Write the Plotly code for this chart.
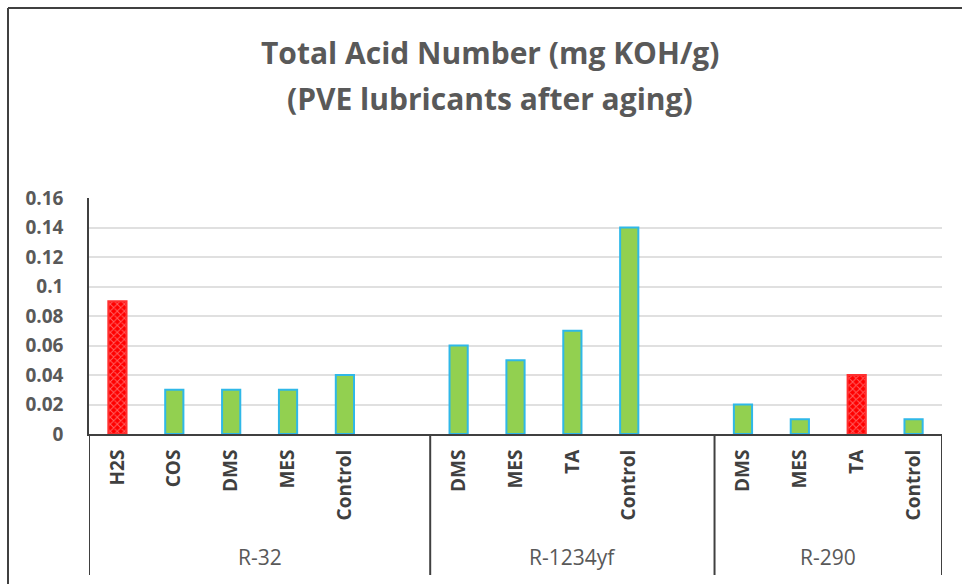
"""Total Acid Number bar chart for PVE lubricants after aging."""

import plotly.graph_objects as go

# Categories per refrigerant group ("" = empty spacer slot)
groups = ["R-32", "R-1234yf", "R-290"]
group_labels = [
    ["H2S", "COS", "DMS", "MES", "Control", ""],
    ["DMS", "MES", "TA", "Control", ""],
    ["DMS", "MES", "TA", "Control"],
]
group_values = [
    [0.09, 0.03, 0.03, 0.03, 0.04, None],
    [0.06, 0.05, 0.07, 0.14, None],
    [0.02, 0.01, 0.04, 0.01],
]
# bars drawn with the red hatched style
highlight = [("R-32", "H2S"), ("R-290", "TA")]

y_ticks = [0, 0.02, 0.04, 0.06, 0.08, 0.1, 0.12, 0.14, 0.16]

W, H = 962, 584
L, R, T, B = 89, 20, 198, 150
PW, PH = W - L - R, H - T - B

GRAY = "#595959"
FONT = "Open Sans"


def px_x(p):
    return (p - L) / PW


def px_y(p):
    return (H - B - p) / PH


labels, values, grp_of = [], [], []
for g, labs, vals in zip(groups, group_labels, group_values):
    labels += labs
    values += vals
    grp_of += [g] * len(labs)

idx = list(range(len(labels)))
is_red = [(g, lab) in highlight for g, lab in zip(grp_of, labels)]

green_x = [i for i in idx if not is_red[i]]
red_x = [i for i in idx if is_red[i]]

fig = go.Figure()
fig.add_trace(
    go.Bar(
        x=green_x,
        y=[values[i] for i in green_x],
        width=0.32,
        marker=dict(color="#92D050", line=dict(color="#2FB8E8", width=2)),
        showlegend=False,
    )
)
fig.add_trace(
    go.Bar(
        x=red_x,
        y=[values[i] for i in red_x],
        width=0.32,
        marker=dict(
            color="#FF0000",
            line=dict(color="#FF3030", width=2),
            pattern=dict(
                shape="x", bgcolor="#FF0000", fgcolor="#FFC0C0", size=5, solidity=0.35
            ),
        ),
        showlegend=False,
    )
)

fig.update_layout(
    width=W,
    height=H,
    margin=dict(l=L, r=R, t=T, b=B),
    paper_bgcolor="white",
    plot_bgcolor="white",
    barmode="overlay",
    font=dict(family=FONT, color=GRAY),
)

# two-line title
for text, ypx in [("Total Acid Number (mg KOH/g)", 52), ("(PVE lubricants after aging)", 98)]:
    fig.add_annotation(
        x=px_x(490), y=px_y(ypx), xref="paper", yref="paper",
        xanchor="center", yanchor="middle",
        text=text, showarrow=False,
        font=dict(family=FONT, size=30, color=GRAY, weight="bold"),
    )

fig.update_xaxes(
    range=[-0.5, len(labels) - 0.5],
    tickmode="array",
    tickvals=idx,
    ticktext=labels,
    tickangle=-90,
    tickfont=dict(size=19, color="#404040", weight="bold"),
    showgrid=False,
    zeroline=False,
    showline=True,
    linecolor="#404040",
    linewidth=2,
    ticks="",
    ticklabelstandoff=6,
)
fig.update_yaxes(
    range=[0, 0.16],
    tickmode="array",
    tickvals=y_ticks,
    ticktext=[f"{t:g}" for t in y_ticks],
    tickfont=dict(size=19, color=GRAY, weight="bold"),
    showgrid=True,
    gridcolor="#E0E0E0",
    gridwidth=2,
    zeroline=False,
    showline=True,
    linecolor="#404040",
    linewidth=1.5,
    ticks="",
    ticklabelstandoff=20,
)

# group separators and group names below the axis
start = 0
bounds = [-0.5]
for g, labs in zip(groups, group_labels):
    end = start + len(labs)
    bounds.append(end - 0.5)
    fig.add_annotation(
        x=(start + end - 1) / 2,
        y=px_y(557),
        xref="x",
        yref="paper",
        yanchor="middle",
        text=g,
        showarrow=False,
        font=dict(size=21, color=GRAY),
    )
    start = end

for b in bounds:
    fig.add_shape(
        type="line",
        xref="x",
        yref="paper",
        x0=b,
        x1=b,
        y0=0,
        y1=px_y(575),
        line=dict(color="#404040", width=2),
    )

# outer chart frame (top and left edges visible)
fig.add_shape(
    type="line", xref="paper", yref="paper",
    x0=px_x(8), x1=px_x(W + 5), y0=px_y(8), y1=px_y(8),
    line=dict(color="#404040", width=2),
)
fig.add_shape(
    type="line", xref="paper", yref="paper",
    x0=px_x(8), x1=px_x(8), y0=px_y(8), y1=px_y(H + 5),
    line=dict(color="#404040", width=2),
)

fig.write_html(
    "out.html",
    config={"displayModeBar": False},
    post_script="document.body.style.margin='0';document.body.style.overflow='hidden';",
)
